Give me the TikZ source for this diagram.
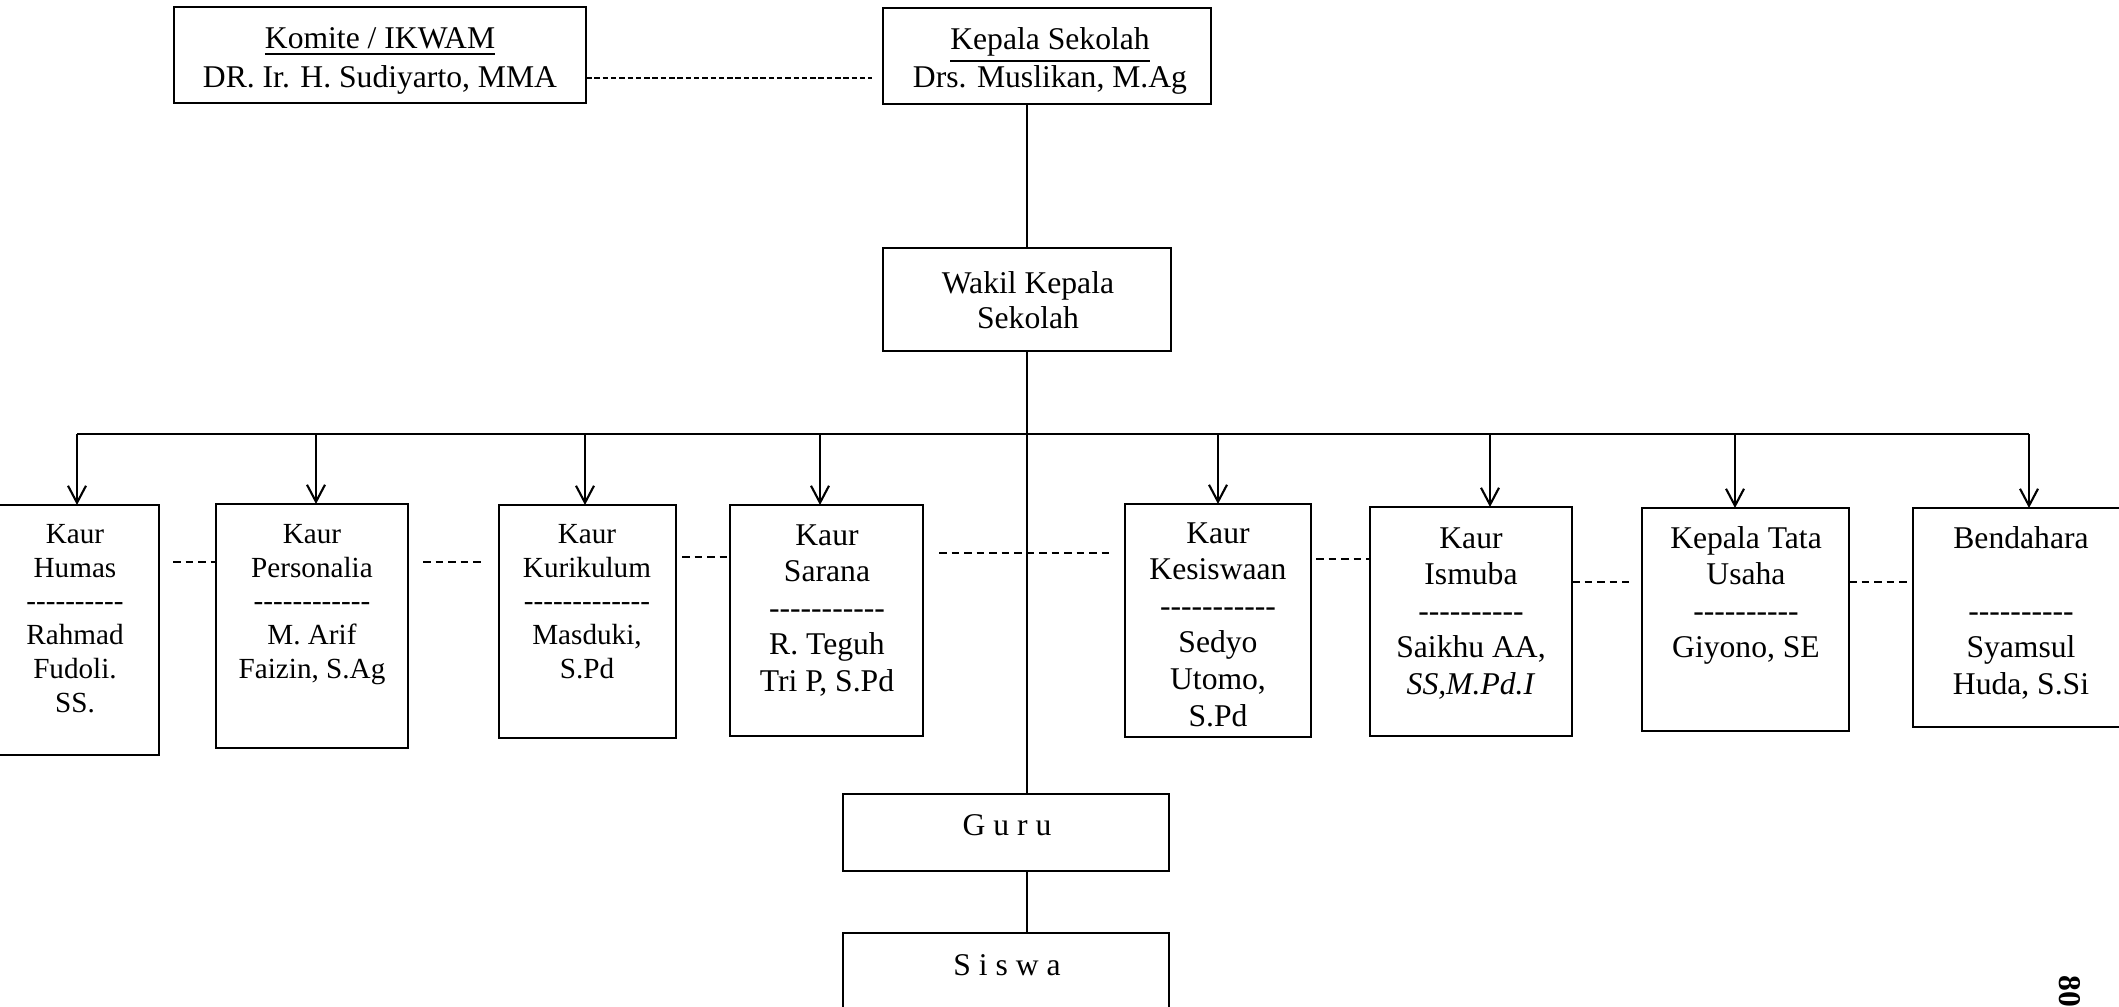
\documentclass[tikz,border=0pt]{standalone}
\usepackage{fontspec}
\setmainfont{Liberation Serif}
\usetikzlibrary{arrows.meta,fit}
\newcommand\hy{-\kern0pt }
\newcommand\fl{\rule{0pt}{7pt}}
\begin{document}
\begin{tikzpicture}[x=0.1mm,y=-0.1mm,
  box/.style={draw, line width=0.8pt, inner sep=0pt, outer sep=0pt},
  ln/.style={line width=0.6pt},
  arr/.style={ln, -{Straight Barb[length=1.7mm,width=1.8mm]}},
  dsh/.style={ln, dash pattern=on 0.75mm off 0.5mm},
  topdsh/.style={ln, dash pattern=on 0.55mm off 0.28mm},
  ttxt/.style={inner sep=0pt, align=center, font=\fontsize{9}{11}\selectfont},
  ltxt/.style={inner sep=0pt, align=center, anchor=north, font=\fontsize{8.3}{9.6}\selectfont},
  rtxt/.style={inner sep=0pt, align=center, anchor=north, font=\fontsize{9}{10.4}\selectfont},
  gtxt/.style={inner sep=0pt, font=\fontsize{9}{11}\selectfont},
]
\useasboundingbox[fill=white] (0,0) rectangle (2119,1007);

% boxes
\node[box, fit={(174,7)(586,103)}] (komite) {};
\node[box, fit={(883,8)(1211,104)}] (kepala) {};
\node[box, fit={(883,248)(1171,351)}] (wakil) {};
\node[box, fit={(-5,505)(159,755)}] (humas) {};
\node[box, fit={(216,504)(408,748)}] (personalia) {};
\node[box, fit={(499,505)(676,738)}] (kurikulum) {};
\node[box, fit={(730,505)(923,736)}] (sarana) {};
\node[box, fit={(1125,504)(1311,737)}] (kesiswaan) {};
\node[box, fit={(1370,507)(1572,736)}] (ismuba) {};
\node[box, fit={(1642,508)(1849,731)}] (ktu) {};
\node[box, fit={(1913,508)(2130,727)}] (bendahara) {};
\node[box, fit={(843,794)(1169,871)}] (guru) {};
\node[box, fit={(843,933)(1169,1030)}] (siswa) {};

% texts
\node[ttxt] (komiteT) at (380,61) {\underline{Komite / IKWAM}\\DR. Ir. H. Sudiyarto, MMA};
\node[ttxt] (kepalaT) at (1050,61) {\underline{Kepala Sekolah}\\Drs. Muslikan, M.Ag};
\node[ttxt, font=\fontsize{9}{10}\selectfont] (wakilT) at (1028,300) {Wakil Kepala\\Sekolah};

\node[ltxt] (humasT) at (75,518) {\fl Kaur\\Humas\\\hy\hy\hy\hy\hy\hy\hy\hy\hy\hy\\Rahmad\\Fudoli.\\SS.};
\node[ltxt] (personaliaT) at (312,518) {\fl Kaur\\Personalia\\\hy\hy\hy\hy\hy\hy\hy\hy\hy\hy\hy\hy\\M. Arif\\Faizin, S.Ag};
\node[ltxt] (kurikulumT) at (587,518) {\fl Kaur\\Kurikulum\\\hy\hy\hy\hy\hy\hy\hy\hy\hy\hy\hy\hy\hy\\Masduki,\\S.Pd};
\node[rtxt] (saranaT) at (827,520) {\fl Kaur\\Sarana\\\hy\hy\hy\hy\hy\hy\hy\hy\hy\hy\hy\\R. Teguh\\Tri P, S.Pd};
\node[rtxt] (kesiswaanT) at (1218,518) {\fl Kaur\\Kesiswaan\\\hy\hy\hy\hy\hy\hy\hy\hy\hy\hy\hy\\Sedyo\\Utomo,\\S.Pd};
\node[rtxt] (ismubaT) at (1471,523) {\fl Kaur\\Ismuba\\\hy\hy\hy\hy\hy\hy\hy\hy\hy\hy\\Saikhu AA,\\\textit{SS,M.Pd.I}};
\node[rtxt] (ktuT) at (1746,523) {\fl Kepala Tata\\Usaha\\\hy\hy\hy\hy\hy\hy\hy\hy\hy\hy\\Giyono, SE};
\node[rtxt] (bendaharaT) at (2021,523) {\fl Bendahara\\\mbox{}\\\hy\hy\hy\hy\hy\hy\hy\hy\hy\hy\\Syamsul\\Huda, S.Si};

\node[gtxt] (guruT) at (1007,825) {G u r u};
\node[gtxt] (siswaT) at (1007,965) {S i s w a};
\node[rotate=-90, inner sep=0pt, font=\bfseries\fontsize{9}{9}\selectfont] (pg) at (2070,991) {80};

% solid connectors
\draw[ln] (kepala.south -| wakil.north) -- (wakil.north);
\draw[ln] (wakil.south) -- (wakil.south |- guru.north);
\draw[ln] (guru.south -| wakil.south) -- (siswa.north -| wakil.south);

\coordinate (busL) at (77,434);
\coordinate (busR) at (2029,434);
\draw[ln] (busL) -- (busR);
\coordinate (aH) at (humas.north);
\coordinate (aP) at ([xshift=0.4mm]personalia.north);
\coordinate (aK) at ([xshift=-0.25mm]kurikulum.north);
\coordinate (aS) at ([xshift=-0.65mm]sarana.north);
\coordinate (aKs) at (kesiswaan.north);
\coordinate (aI) at ([xshift=1.9mm]ismuba.north);
\coordinate (aT) at ([xshift=-1.05mm]ktu.north);
\coordinate (aB) at ([xshift=0.75mm]bendahara.north);
\foreach \a in {aH,aP,aK,aS,aKs,aI,aT,aB}
  \draw[arr] (\a |- busL) -- (\a);

% dashed connectors
\coordinate (d0) at (0,78);
\coordinate (d1) at (0,562);
\coordinate (d3) at (0,557);
\coordinate (d4) at (0,553);
\coordinate (d5) at (0,559);
\coordinate (d6) at (0,582);
\draw[topdsh, shorten >=1.1mm] (komite.east |- d0) -- (kepala.west |- d0);
\draw[dsh, shorten <=1.4mm] (humas.east |- d1) -- (personalia.west |- d1);
\draw[dsh, shorten <=1.5mm, shorten >=1.6mm] (personalia.east |- d1) -- (kurikulum.west |- d1);
\draw[dsh, shorten <=0.6mm] (kurikulum.east |- d3) -- (sarana.west |- d3);
\draw[dsh, shorten <=1.6mm, shorten >=1.2mm] (sarana.east |- d4) -- (kesiswaan.west |- d4);
\draw[dsh, shorten <=0.5mm] (kesiswaan.east |- d5) -- (ismuba.west |- d5);
\draw[dsh, shorten >=1.3mm] (ismuba.east |- d6) -- (ktu.west |- d6);
\draw[dsh, shorten >=0.4mm] (ktu.east |- d6) -- (bendahara.west |- d6);
\end{tikzpicture}
\end{document}
